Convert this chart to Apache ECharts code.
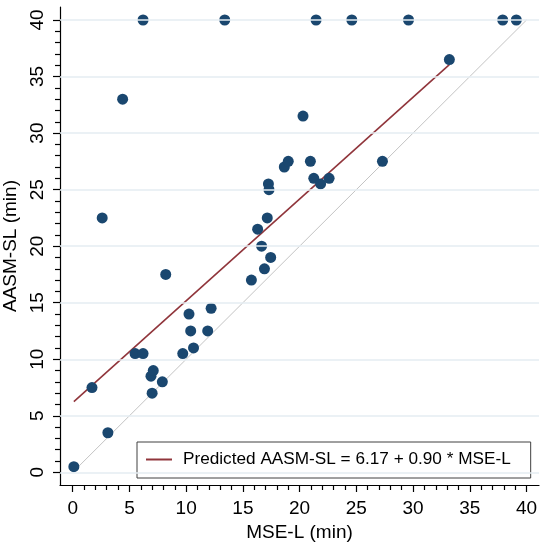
<!DOCTYPE html>
<html><head><meta charset="utf-8">
<script src="https://cdn.jsdelivr.net/npm/echarts@6/dist/echarts.min.js"></script>
<style>html,body{margin:0;padding:0;background:#fff}#c{width:540px;height:551px}</style>
</head><body><div id="c"></div>
<script>
// ---- data ----
const mseL   = [0.1, 1.7, 2.6, 3.1, 4.4, 5.5, 6.2, 6.2, 6.9, 7.1, 7.0, 7.9, 8.2, 9.7, 10.25, 10.4, 10.65, 11.9, 12.2, 13.4, 15.75, 16.3, 16.65, 16.9, 17.15, 17.25, 17.3, 17.45, 18.65, 19.0, 20.3, 20.95, 21.25, 21.45, 21.85, 22.6, 24.6, 27.3, 29.6, 33.2, 37.9, 39.1];
const aasmSL = [0.5, 7.5, 22.5, 3.5, 33, 10.5, 10.5, 40, 8.5, 9, 7, 8, 17.5, 10.5, 14, 12.5, 11, 12.5, 14.5, 40, 17, 21.5, 20, 18, 22.5, 25.5, 25, 19, 27, 27.5, 31.5, 27.5, 26, 40, 25.5, 26, 40, 27.5, 40, 36.5, 40, 40];
const xTicks = [0, 5, 10, 15, 20, 25, 30, 35, 40];
const yTicks = [0, 5, 10, 15, 20, 25, 30, 35, 40];
const ceilingValue = 40;          // censored observations (not used for the fit span)
const fitIntercept = 6.17;
const fitSlope = 0.90;
const identityRange = [0, 40];
const fitLabel = 'Predicted AASM-SL = 6.17 + 0.90 * MSE-L';

// ---- derived ----
const points = mseL.map((x, i) => [x, aasmSL[i]]);
const fitXs = mseL.filter((x, i) => aasmSL[i] < ceilingValue);
const xMinFit = Math.min(...fitXs), xMaxFit = Math.max(...fitXs);
const fitLine = [[xMinFit, fitIntercept + fitSlope * xMinFit], [xMaxFit, fitIntercept + fitSlope * xMaxFit]];
const identityLine = identityRange.map(v => [v, v]);
const minorX = [], minorY = [];
for (let v = xTicks[0]; v <= xTicks[xTicks.length - 1]; v++) if (xTicks.indexOf(v) < 0) minorX.push(v);
for (let v = yTicks[0]; v <= yTicks[yTicks.length - 1]; v++) if (yTicks.indexOf(v) < 0) minorY.push(v);

const FONT = 'Liberation Sans, Arial, sans-serif';
const X_MIN = -1.12, X_MAX = 41.1, Y_MIN = -1.12, Y_MAX = 41.15;
const gridBox = { left: 60, right: 1, top: 7, bottom: 66, outerBoundsMode: 'none', containLabel: false };

const chart = echarts.init(document.getElementById('c'), null, { renderer: 'canvas' });
chart.setOption({
  animation: false,
  backgroundColor: '#fff',
  textStyle: { fontFamily: FONT },
  grid: [Object.assign({}, gridBox), Object.assign({}, gridBox)],
  legend: {
    left: 137, top: 442,
    padding: [9, 20, 10, 9],
    borderColor: '#404040', borderWidth: 1, borderRadius: 0,
    itemWidth: 26, itemHeight: 2,
    data: [{ name: fitLabel, icon: 'rect' }],
    textStyle: { fontSize: 17.2, color: '#000', fontFamily: FONT, padding: [0, 0, 0, 6] }
  },
  xAxis: [{
    type: 'value', gridIndex: 0, min: X_MIN, max: X_MAX,
    name: 'MSE-L (min)', nameLocation: 'middle', nameGap: 34,
    nameTextStyle: { fontSize: 19, color: '#000', fontFamily: FONT },
    axisLine: { show: true, onZero: false, lineStyle: { color: '#000', width: 1.2 } },
    axisTick: { show: true, customValues: xTicks, length: 7, lineStyle: { color: '#000', width: 1.2 } },
    axisLabel: { customValues: xTicks, fontSize: 19, color: '#000', margin: 14, fontFamily: FONT },
    splitLine: { show: false }
  }, {
    type: 'value', gridIndex: 1, min: X_MIN, max: X_MAX, position: 'bottom',
    axisLine: { show: false, onZero: false },
    axisTick: { show: true, customValues: minorX, length: 5, lineStyle: { color: '#000', width: 1.2 } },
    axisLabel: { show: false },
    splitLine: { show: false }
  }],
  yAxis: [{
    type: 'value', gridIndex: 0, min: Y_MIN, max: Y_MAX,
    name: 'AASM-SL (min)', nameLocation: 'middle', nameGap: 28,
    nameTextStyle: { fontSize: 19, color: '#000', fontFamily: FONT },
    axisLine: { show: true, onZero: false, lineStyle: { color: '#000', width: 1.2 } },
    axisTick: { show: true, customValues: yTicks, length: 7, lineStyle: { color: '#000', width: 1.2 } },
    axisLabel: { customValues: yTicks, fontSize: 19, color: '#000', margin: 13, rotate: 90, fontFamily: FONT },
    splitLine: { show: false }
  }, {
    type: 'value', gridIndex: 1, min: Y_MIN, max: Y_MAX, position: 'left',
    axisLine: { show: false, onZero: false },
    axisTick: { show: true, customValues: minorY, length: 5, lineStyle: { color: '#000', width: 1.2 } },
    axisLabel: { show: false },
    splitLine: { show: false }
  }],
  series: [{
    type: 'scatter', name: 'grid', xAxisIndex: 0, yAxisIndex: 0, data: [], z: 0, silent: true,
    markLine: {
      silent: true, symbol: 'none', animation: false,
      label: { show: false },
      lineStyle: { color: '#e4edf2', width: 1.5, type: 'solid' },
      emphasis: { disabled: true },
      data: yTicks.map(v => ({ yAxis: v }))
    }
  }, {
    type: 'scatter', name: 'minor', xAxisIndex: 1, yAxisIndex: 1, data: [], silent: true
  }, {
    type: 'line', name: 'identity', data: identityLine, symbol: 'none', z: 1, silent: true,
    lineStyle: { color: '#c4c4c4', width: 1 }, itemStyle: { color: '#c4c4c4' }
  }, {
    type: 'line', name: fitLabel, data: fitLine, symbol: 'none', z: 2, silent: true,
    lineStyle: { color: '#90353b', width: 1.6 }, itemStyle: { color: '#90353b' }
  }, {
    type: 'scatter', name: 'obs', data: points, symbolSize: 11, z: 3,
    itemStyle: { color: '#1a476f', opacity: 1 }
  }]
});
</script></body></html>
